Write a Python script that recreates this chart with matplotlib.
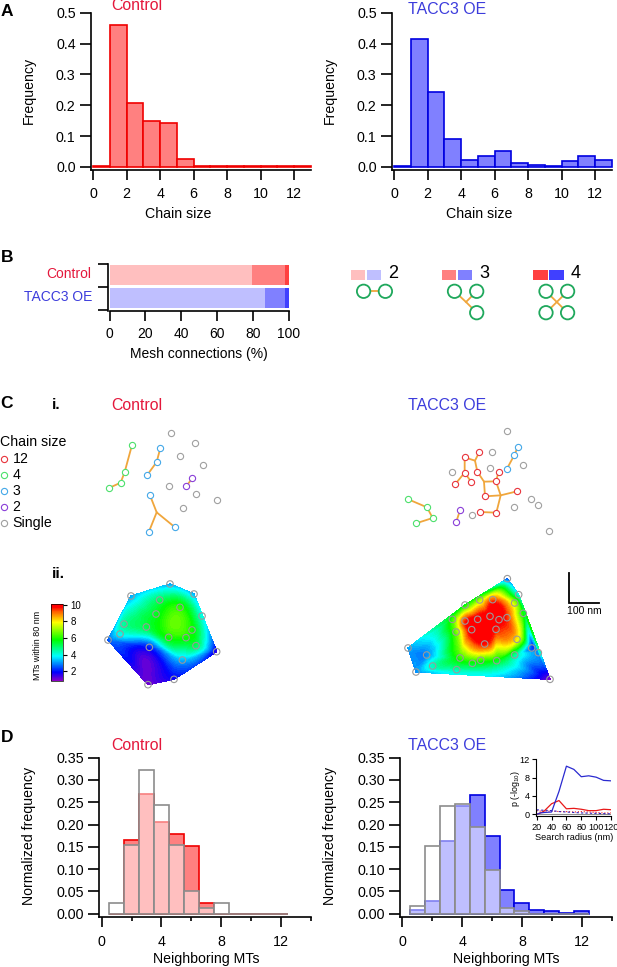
import numpy as np
import matplotlib
matplotlib.use('Agg')
import matplotlib.pyplot as plt
import matplotlib.tri as mtri
from matplotlib.cm import ScalarMappable
from matplotlib.colors import LinearSegmentedColormap, Normalize
from matplotlib.patches import Circle, Rectangle
from matplotlib.ticker import FixedLocator

plt.rcParams['font.family'] = ['Liberation Sans', 'DejaVu Sans']
plt.rcParams['mathtext.default'] = 'regular'

W, H = 617, 967
RED_TXT = '#E4183C'
BLUE_TXT = '#3C3CDC'

# panel A
chain_edges = [0, 1, 2, 3, 4, 5, 6, 7, 8, 9, 10, 11, 12]
chain_ctrl = [0.003, 0.46, 0.208, 0.148, 0.143, 0.027, 0.003, 0.003, 0.003, 0.003, 0.003, 0.003, 0.003]
chain_oe = [0.002, 0.414, 0.242, 0.092, 0.024, 0.037, 0.052, 0.014, 0.008, 0.002, 0.02, 0.037, 0.023]

# panel B
mesh_names = ['Control', 'TACC3 OE']
mesh_two = [79.5, 86.5]
mesh_three = [18.5, 11.0]
mesh_four = [2.0, 2.5]

# panel C i, values are crop pixels (3x)
ctrl_grey = [(512, 128), (584, 158), (541, 197), (608, 224), (507, 288), (589, 311), (652, 329), (549, 355)]
ctrl_green = [(396, 165), (374, 246), (362, 278), (327, 294)]
ctrl_blue1 = [(481, 174), (470, 216), (441, 256)]
ctrl_purple = [(577, 265), (559, 288)]
ctrl_blue2 = [(450, 316), (525, 412), (446, 427)]
ctrl_branch = [[(450, 316), (470, 367), (525, 412)], [(470, 367), (446, 427)]]

oe_grey = [(502, 62), (457, 125), (449, 175), (336, 185), (549, 166), (574, 268), (594, 284), (523, 292), (396, 316), (627, 364)]
oe_blue = [(534, 110), (523, 135), (500, 178)]
oe_red = [(374, 142), (418, 126), (412, 185), (374, 188), (346, 222), (394, 216), (476, 185), (468, 214),
          (435, 259), (531, 244), (421, 306), (469, 308)]
oe_green = [(205, 268), (261, 292), (278, 324), (228, 340)]
oe_purple = [(360, 301), (349, 335)]
oe_links = [[(374, 142), (374, 188), (346, 222)], [(374, 188), (394, 216)], [(374, 142), (405, 152), (418, 126)],
            [(405, 152), (412, 185), (432, 215), (468, 214), (482, 256), (531, 244)], [(432, 215), (435, 259), (482, 256), (469, 308), (421, 306)],
            [(476, 185), (468, 214)]]

# panel C ii, x, y in crop pixels and the MT count at that microtubule
ctrl_mt_x = [324, 393, 510, 582, 606, 650, 522, 444, 479, 540, 468, 372, 360, 439, 506, 576, 558, 588, 547, 448]
ctrl_mt_y = [240, 108, 72, 102, 168, 275, 358, 374, 120, 142, 162, 192, 222, 201, 232, 210, 233, 257, 300, 262]
ctrl_mt_n = [2.6, 3.2, 3.2, 3.2, 3.9, 1.5, 1.9, 1.2, 5.0, 6.0, 5.5, 4.6, 3.9, 5.2, 5.8, 5.8, 5.8, 5.0, 3.3, 2.1]

oe_mt_x = [382, 416, 510, 108, 84, 255, 299, 338, 404, 430, 217, 255, 293, 330, 357, 381, 275, 348, 228, 314, 411,
           240, 302, 277, 350, 404, 158, 230, 140, 455, 475]
oe_mt_y = [56, 104, 358, 336, 264, 135, 120, 119, 129, 160, 178, 183, 178, 169, 179, 173, 209, 208, 216, 252, 238,
           294, 301, 310, 302, 285, 318, 329, 285, 264, 278]
oe_mt_n = [2.5, 3.8, 1.0, 3.0, 3.2, 5.5, 6.8, 9.0, 7.0, 5.5, 6.0, 9.3, 10.0, 10.0, 10.0, 9.3, 10.0, 9.5, 6.5, 9.5, 7.8,
           6.0, 6.0, 5.5, 5.5, 4.6, 4.3, 4.4, 3.0, 2.4, 3.0]

# panel D
nb_bins = [1, 2, 3, 4, 5, 6, 7, 8, 9, 10, 11, 12]
nb_ctrl = [0, 0.165, 0.268, 0.205, 0.178, 0.153, 0.025, 0, 0, 0, 0, 0]
nb_ctrl_ref = [0.025, 0.155, 0.323, 0.245, 0.155, 0.05, 0.013, 0.025, 0, 0, 0, 0]
nb_oe = [0.009, 0.028, 0.163, 0.241, 0.267, 0.174, 0.053, 0.024, 0.008, 0.005, 0.001, 0.005]
nb_oe_ref = [0.018, 0.152, 0.241, 0.246, 0.194, 0.098, 0.012, 0.007, 0, 0, 0, 0]

# inset
radius = [20, 25, 30, 40, 50, 60, 70, 80, 90, 100, 110, 120]
p_oe = [0, 0.3, 0.4, 0.5, 5.0, 10.5, 9.8, 8.2, 8.4, 8.1, 7.4, 7.3]
p_ctrl = [0, 0.3, 0.7, 2.3, 3.0, 1.2, 1.3, 1.1, 0.8, 0.8, 1.1, 1.0]
p_oe_dot = [1.0, 0.9, 0.9, 0.8, 0.6, 0.5, 0.4, 0.3, 0.25, 0.2, 0.15, 0.1]
p_ctrl_dot = [0.8, 0.7, 0.7, 0.7, 0.6, 0.6, 0.5, 0.6, 0.5, 0.4, 0.3, 0.3]


def px_axes(fig, left, right, top, bottom, xa, xb, ya, yb):
    # axes placed by image pixels, xa/xb/ya/yb are (value, pixel) calibration pairs
    ax = fig.add_axes([left / W, 1 - bottom / H, (right - left) / W, (bottom - top) / H])
    kx = (xb[0] - xa[0]) / (xb[1] - xa[1])
    ky = (yb[0] - ya[0]) / (yb[1] - ya[1])
    ax.set_xlim(xa[0] + (left - xa[1]) * kx, xa[0] + (right - xa[1]) * kx)
    ax.set_ylim(ya[0] + (bottom - ya[1]) * ky, ya[0] + (top - ya[1]) * ky)
    ax.patch.set_visible(False)
    ax.spines['top'].set_visible(False)
    ax.spines['right'].set_visible(False)
    ax.spines['left'].set_linewidth(1.2)
    ax.spines['bottom'].set_linewidth(1.2)
    return ax


def crop(points, ox, oy):
    pts = np.array(points, dtype=float)
    return ox + pts[:, 0] / 3, oy + pts[:, 1] / 3


fig = plt.figure(figsize=(W / 100, H / 100), dpi=100)
ov = fig.add_axes([0, 0, 1, 1])
ov.set_xlim(0, W)
ov.set_ylim(H, 0)
ov.axis('off')


def label(x, y, s, size=10.2, color='black', ha='center', **kw):
    ov.text(x, y, s, fontsize=size, color=color, ha=ha, va='center', **kw)


# panel A
for off, vals, fc, ec, name, ncol, nx, ny in [(0, chain_ctrl, '#FF8080', '#F00000', 'Control', RED_TXT, 111, 6),
                                              (301, chain_oe, '#8080FF', '#0000E0', 'TACC3 OE', BLUE_TXT, 408, 9)]:
    ax = px_axes(fig, 91 + off, 311 + off, 12.7, 170, (0, 93.3 + off), (12, 294 + off), (0, 167), (0.5, 12.7))
    ax.bar(chain_edges, vals, width=1, align='edge', facecolor=fc, edgecolor=ec, linewidth=1.2, clip_on=False)
    ax.set_xticks([0, 2, 4, 6, 8, 10, 12])
    ax.set_yticks([0, 0.1, 0.2, 0.3, 0.4, 0.5])
    ax.set_yticklabels(['0.0', '0.1', '0.2', '0.3', '0.4', '0.5'])
    ax.tick_params(axis='x', length=7.2, width=1.2, pad=5, labelsize=10.3)
    ax.tick_params(axis='y', length=8, width=1.2, pad=3, labelsize=10.3)
    label(29 + off, 90, 'Frequency', rotation=90)
    label(178 + off, 214, 'Chain size')
    ov.text(nx, ny, name, fontsize=11.4, color=ncol, ha='left', va='center')

label(1, 11, 'A', size=12.5, ha='left', fontweight='bold')
label(1, 257, 'B', size=12.5, ha='left', fontweight='bold')
label(0, 404, 'C', size=12.5, ha='left', fontweight='bold')
label(1, 738, 'D', size=12.5, ha='left', fontweight='bold')

# panel B
ax = px_axes(fig, 107.5, 290, 263.5, 311, (0, 109.5), (100, 289), (0, 275), (1, 298))
two, three, four = np.array(mesh_two), np.array(mesh_three), np.array(mesh_four)
for i, cols in enumerate([('#FFBFBF', '#FF8080', '#FF4040'), ('#BFBFFF', '#8080FF', '#4040FF')]):
    ax.barh(i, two[i], height=0.88, color=cols[0])
    ax.barh(i, three[i], left=two[i], height=0.88, color=cols[1])
    ax.barh(i, four[i], left=two[i] + three[i], height=0.88, color=cols[2])
ax.set_xticks([0, 20, 40, 60, 80, 100])
ax.set_yticks([-0.5, 0.5, 1.5])
ax.set_yticklabels([])
ax.spines['bottom'].set_bounds(0, 100)
ax.tick_params(axis='x', length=7.2, width=1.2, pad=4, labelsize=10)
ax.tick_params(axis='y', length=7.5, width=1.2)
label(91, 274, mesh_names[0], size=10, color=RED_TXT, ha='right')
label(92, 297, mesh_names[1], size=10, color=BLUE_TXT, ha='right')
label(199, 354, 'Mesh connections (%)', size=10)

# chain size key
key_sizes = ['2', '3', '4']
key_left = [350.6, 441.5, 533]
key_cols = [('#FFBFBF', '#BFBFFF'), ('#FF8080', '#8080FF'), ('#FF4040', '#4040FF')]
for s, x, cols in zip(key_sizes, key_left, key_cols):
    ov.add_patch(Rectangle((x, 270), 14.5, 9.5, color=cols[0], lw=0))
    ov.add_patch(Rectangle((x + 16.3, 270), 14.5, 9.5, color=cols[1], lw=0))
    label(x + 42.5, 273.5, s, size=13)

ORANGE = '#F0A63C'
GREEN = '#1FA85C'
key_links = [[(363.6, 291.3), (385.4, 291.3)],
             [(454.5, 291.3), (466, 302), (476.7, 312.7)], [(466, 302), (476.7, 291.3)],
             [(546, 291.3), (567.6, 312.7)], [(567.6, 291.3), (546, 312.7)]]
key_rings = [(363.6, 291.3), (385.4, 291.3), (454.5, 291.3), (476.7, 291.3), (476.7, 312.7),
             (546, 291.3), (567.6, 291.3), (546, 312.7), (567.6, 312.7)]
for seg in key_links:
    s = np.array(seg)
    ov.plot(s[:, 0], s[:, 1], color=ORANGE, lw=1.3, zorder=1)
for c in key_rings:
    ov.add_patch(Circle(c, 6.7, facecolor='white', edgecolor=GREEN, lw=1.3, zorder=2))

# panel C i
C_RED, C_GREEN, C_BLUE, C_PURPLE, C_GREY = '#E8343C', '#4CE06C', '#44A8E8', '#8A3FD8', '#A0A0A0'


def rings(points, col, ox, oy):
    x, y = crop(points, ox, oy)
    ov.scatter(x, y, s=20, facecolor='white', edgecolor=col, linewidth=0.8, zorder=3)


def links(points, ox, oy):
    x, y = crop(points, ox, oy)
    ov.plot(x, y, color=ORANGE, lw=1.3, zorder=2)


label(52, 405, 'i.', size=11, ha='left', fontweight='bold')
ov.text(111, 405, 'Control', fontsize=11.4, color=RED_TXT, ha='left', va='center')
ov.text(408, 405, 'TACC3 OE', fontsize=11.4, color=BLUE_TXT, ha='left', va='center')
label(0, 442, 'Chain size', ha='left')
legend_names = ['12', '4', '3', '2', 'Single']
legend_cols = [C_RED, C_GREEN, C_BLUE, C_PURPLE, C_GREY]
legend_y = [458.7, 474.7, 490.7, 506.7, 523]
for name, col, y in zip(legend_names, legend_cols, legend_y):
    ov.scatter([3.7], [y], s=20, facecolor='white', edgecolor=col, linewidth=0.8)
    label(12.5, y, name, ha='left')

links(ctrl_green, 0, 390)
links(ctrl_blue1, 0, 390)
links(ctrl_purple, 0, 390)
for seg in ctrl_branch:
    links(seg, 0, 390)
rings(ctrl_grey, C_GREY, 0, 390)
rings(ctrl_green, C_GREEN, 0, 390)
rings(ctrl_blue1, C_BLUE, 0, 390)
rings(ctrl_purple, C_PURPLE, 0, 390)
rings(ctrl_blue2, C_BLUE, 0, 390)

links(oe_blue, 340, 410)
links(oe_green, 340, 410)
links(oe_purple, 340, 410)
for seg in oe_links:
    links(seg, 340, 410)
rings(oe_grey, C_GREY, 340, 410)
rings(oe_blue, C_BLUE, 340, 410)
rings(oe_red, C_RED, 340, 410)
rings(oe_green, C_GREEN, 340, 410)
rings(oe_purple, C_PURPLE, 340, 410)

# panel C ii
rainbow = LinearSegmentedColormap.from_list('mt_rainbow', [
    (0.0, '#8A00C8'), (0.11, '#0000FF'), (0.32, '#00FFFF'), (0.53, '#00FF00'),
    (0.76, '#FFFF00'), (0.90, '#FF6000'), (0.96, '#FF0000'), (1.0, '#FF0000')])
rainbow.set_under('#8A00C8')
rainbow.set_over('#FF0000')
norm = Normalize(1, 10)


def mt_map(xs, ys, ns, ox, oy):
    x = ox + np.array(xs) / 3
    y = oy + np.array(ys) / 3
    tri = mtri.Triangulation(x, y)
    # geom kind overshoots less than min_E on the long edge triangles
    interp = mtri.CubicTriInterpolator(tri, np.array(ns, dtype=float), kind='geom')
    fine, z = mtri.UniformTriRefiner(tri).refine_field(np.array(ns, dtype=float), triinterpolator=interp, subdiv=3)
    cs = ov.tricontourf(fine, z, levels=np.linspace(1, 10, 73), cmap=rainbow, norm=norm, extend='both', zorder=1)
    # thin face coloured edge hides seams, thicker ones spike at sharp corners
    cs.set_edgecolor('face')
    cs.set_linewidth(0.25)
    ov.scatter(x, y, s=22, facecolor='none', edgecolor='#9A9A9A', linewidth=0.8, zorder=3)


mt_map(ctrl_mt_x, ctrl_mt_y, ctrl_mt_n, 0, 560)
mt_map(oe_mt_x, oe_mt_y, oe_mt_n, 380, 560)
label(52, 574, 'ii.', size=11, ha='left', fontweight='bold')

cax = fig.add_axes([51.3 / W, 1 - 680.7 / H, 12 / W, 76.7 / H])
cb = fig.colorbar(ScalarMappable(norm=Normalize(0.84, 10.1), cmap=rainbow), cax=cax)
cb.set_ticks([2, 4, 6, 8, 10])
cb.ax.minorticks_off()
cb.ax.tick_params(length=3.2, width=0.8, pad=2, labelsize=7)
cb.outline.set_linewidth(0.5)
label(37, 645, 'MTs within 80 nm', size=6.4, rotation=90)

# scale bar
ov.plot([569.3, 569.3, 599], [573.3, 602.7, 602.7], color='black', lw=1.3, solid_joinstyle='miter')
label(584, 611, '100 nm', size=7.5)

# panel D
for off, ref, vals, fc, ec, name, ncol, nx in [
        (0, nb_ctrl_ref, nb_ctrl, '#FF8080', '#F00000', 'Control', RED_TXT, 111),
        (300.7, nb_oe_ref, nb_oe, '#8080FF', '#0000E0', 'TACC3 OE', BLUE_TXT, 408)]:
    ax = px_axes(fig, 99.3 + off, 311 + off, 757.7, 917, (0, 101.7 + off), (12, 281 + off), (0, 913.7), (0.35, 757.7))
    ax.bar(nb_bins, vals, width=1, facecolor=fc, edgecolor=ec, linewidth=1.2)
    ax.bar(nb_bins, ref, width=1, facecolor=(1, 1, 1, 0.5), edgecolor='#8C8C8C', linewidth=1.2)
    ax.set_xticks([0, 4, 8, 12])
    ax.xaxis.set_minor_locator(FixedLocator([2, 6, 10, 14]))
    ax.set_yticks([0, 0.05, 0.10, 0.15, 0.20, 0.25, 0.30, 0.35])
    ax.set_yticklabels(['0.00', '0.05', '0.10', '0.15', '0.20', '0.25', '0.30', '0.35'])
    ax.tick_params(axis='x', which='major', length=7.2, width=1.2, pad=6, labelsize=10.3)
    ax.tick_params(axis='x', which='minor', length=3, width=1.2)
    ax.tick_params(axis='y', length=8, width=1.2, pad=3, labelsize=10.3)
    label(29 + off, 836, 'Normalized frequency', rotation=90)
    label(206 + off, 959, 'Neighboring MTs')
    ov.text(nx, 745, name, fontsize=11.4, color=ncol, ha='left', va='center')

# inset
ins = px_axes(fig, 536, 611, 759.3, 816, (20, 536.7), (120, 611), (0, 814.3), (12, 759.3))
ins.plot([20, 120], [0, 0], color='#8C8C8C', lw=0.8)
ins.plot(radius, p_ctrl_dot, color='#F02020', lw=0.8, ls=':')
ins.plot(radius, p_oe_dot, color='#3020C0', lw=0.8, ls=(0, (2, 2)))
ins.plot(radius, p_ctrl, color='#E81818', lw=0.9)
ins.plot(radius, p_oe, color='#2A2AD0', lw=0.9)
ins.set_xticks([20, 40, 60, 80, 100, 120])
ins.set_yticks([0, 4, 8, 12])
ins.tick_params(axis='x', length=2.8, width=0.8, pad=2.5, labelsize=6.6)
ins.tick_params(axis='y', length=2.8, width=0.8, pad=1.5, labelsize=6.6)
ins.spines['left'].set_linewidth(0.8)
ins.spines['bottom'].set_linewidth(0.8)
label(574, 837, 'Search radius (nm)', size=6.6)
label(515, 789, 'p (-log$_{10}$)', size=6.4, rotation=90)

fig.savefig('out.png', dpi=100)
